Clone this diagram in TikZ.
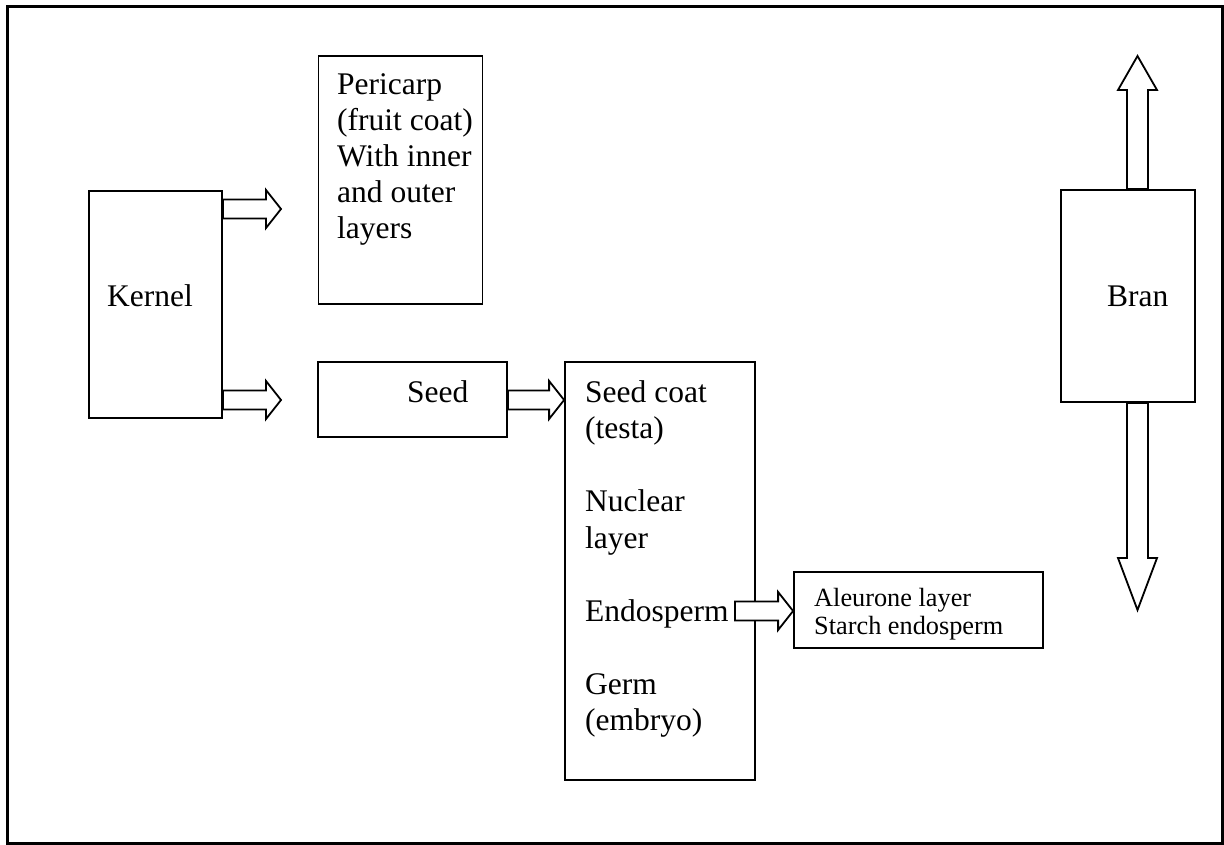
\documentclass[tikz,border=0pt]{standalone}
\usepackage{fontspec}
\setmainfont{Liberation Serif}
\usetikzlibrary{calc}
\tikzset{
  box/.style={draw, line width=1.8pt, inner sep=0pt},
  blockarrow/.style={draw, line width=1.8pt, fill=white, line join=miter},
  txt/.style={inner sep=0pt, anchor=base west, font=\fontsize{31.5}{36.5}\selectfont},
  small/.style={inner sep=0pt, anchor=base west, font=\fontsize{26.3}{28}\selectfont},
}
% horizontal block arrow from #1 (start) to #2 (tip)
\newcommand\harrow[2]{%
  \draw[blockarrow] let \p1=(#1), \p2=(#2) in
    (\x1,\y2+9.5pt) -- (\x2-15pt,\y2+9.5pt) -- (\x2-15pt,\y2+19pt) -- (\x2,\y2)
    -- (\x2-15pt,\y2-19pt) -- (\x2-15pt,\y2-9.5pt) -- (\x1,\y2-9.5pt) -- cycle;}
% vertical block arrow from #1 (start) to #2 (tip), head length #3
\newcommand\varrow[3]{%
  \draw[blockarrow] let \p1=(#1), \p2=(#2), \p3=($(#2)!#3!(#1)$) in
    (\x2-10.5pt,\y1) -- (\x2-10.5pt,\y3) -- (\x2-19.5pt,\y3) -- (\x2,\y2)
    -- (\x2+19.5pt,\y3) -- (\x2+10.5pt,\y3) -- (\x2+10.5pt,\y1) -- cycle;}
\begin{document}
\begin{tikzpicture}[x=1pt,y=-1pt]
\useasboundingbox (0,0) rectangle (1224,845);
\draw[line width=3pt] (7,7) rectangle (1222,843);

% boxes
\node[box, minimum width=133pt, minimum height=227pt] (kernel) at (155.5,304.5) {};
\node[box, minimum width=164pt, minimum height=248pt] (pericarp) at (400.5,180) {};
\node[box, minimum width=189pt, minimum height=75pt] (seed) at (412.5,399.5) {};
\node[box, minimum width=190pt, minimum height=418pt] (seedcoat) at (660,571) {};
\node[box, minimum width=249pt, minimum height=76pt] (aleurone) at (918.5,610) {};
\node[box, minimum width=134pt, minimum height=212pt] (bran) at (1128,296) {};

% texts
\node[txt] (kernelT) at (107,306) {Kernel};
\node[txt] (per1) at (337,95) {Pericarp};
\node[txt] (per2) at (337,131) {(fruit coat)};
\node[txt] (per3) at (337,167) {With inner};
\node[txt] (per4) at (337,203) {and outer};
\node[txt] (per5) at (337,239) {layers};
\node[txt] (seedT) at (407,402) {Seed};
\node[txt] (sc1) at (585,402) {Seed coat};
\node[txt] (sc2) at (585,438.5) {(testa)};
\node[txt] (sc3) at (585,511.5) {Nuclear};
\node[txt] (sc4) at (585,548) {layer};
\node[txt] (sc5) at (585,621) {Endosperm};
\node[txt] (sc6) at (585,694) {Germ};
\node[txt] (sc7) at (585,730.5) {(embryo)};
\node[small] (al1) at (814,606) {Aleurone layer};
\node[small] (al2) at (814,634) {Starch endosperm};
\node[txt] (branT) at (1107,306) {Bran};

% arrow coordinates
\coordinate (a1s) at (kernel.east |- 0,209);
\coordinate (a1t) at (281,209);
\coordinate (a2s) at (kernel.east |- 0,400);
\coordinate (a2t) at (281,400);
\coordinate (a3s) at (seed.east |- 0,400);
\coordinate (a3t) at (seedcoat.west |- 0,400);
\coordinate (a4s) at (735,611);
\coordinate (a4t) at (aleurone.west |- 0,611);
\coordinate (a5s) at (1137.5,0 |- bran.north);
\coordinate (a5t) at (1137.5,56);
\coordinate (a6s) at (1137.5,0 |- bran.south);
\coordinate (a6t) at (1137.5,610);

\harrow{a1s}{a1t}
\harrow{a2s}{a2t}
\harrow{a3s}{a3t}
\harrow{a4s}{a4t}
\varrow{a5s}{a5t}{34pt}
\varrow{a6s}{a6t}{52pt}
\end{tikzpicture}
\end{document}
